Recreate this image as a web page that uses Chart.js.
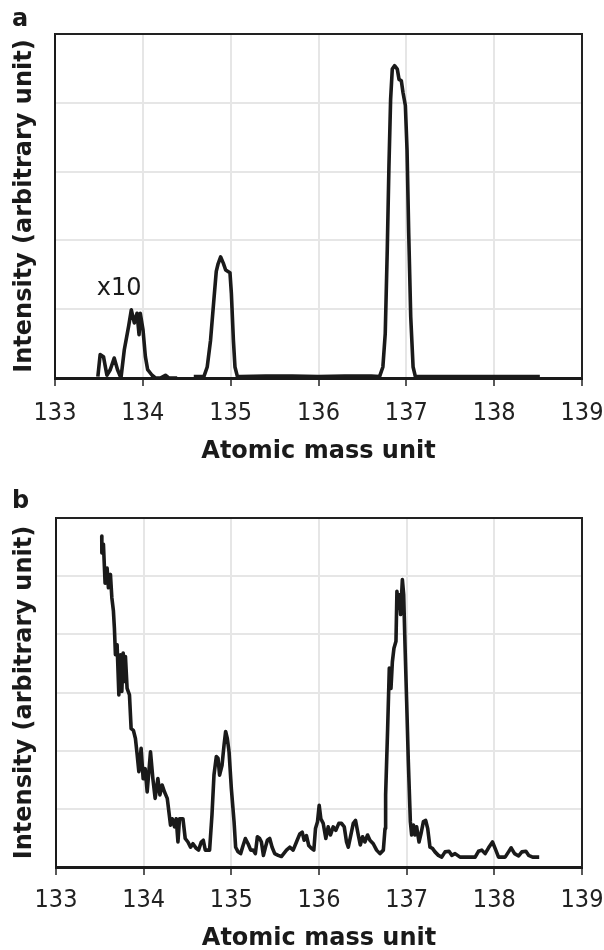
<!DOCTYPE html>
<html>
<head>
<meta charset="utf-8">
<script src="https://cdn.jsdelivr.net/npm/chart.js@4.4.1/dist/chart.umd.min.js"></script>
<style>
  html, body { margin: 0; padding: 0; background: #fff; overflow: hidden; }
  #wrap { position: relative; width: 604px; height: 950px; }
  canvas { position: absolute; left: 0; }
  .panel { position: absolute; left: 12px; font: bold 24px "DejaVu Sans"; line-height: 24px; color: #1a1a1a; }
</style>
</head>
<body>
<div id="wrap">
  <canvas id="chartA" width="604" height="475" style="top:0"></canvas>
  <canvas id="chartB" width="604" height="475" style="top:475px"></canvas>
  <div class="panel" style="top:6px">a</div>
  <div class="panel" style="top:488px">b</div>
</div>
<script>
// x axis ticks (atomic mass unit)
const massTicks = [133, 134, 135, 136, 137, 138, 139];

// panel a, the small part drawn x10
const massA10 = [133.488, 133.514, 133.552, 133.591, 133.629, 133.674, 133.712, 133.751, 133.789, 133.838,
  133.869, 133.903, 133.934, 133.957, 133.971, 134.002, 134.029, 134.055, 134.105, 134.143,
  134.2, 134.257, 134.295, 134.391];
const intensityA10 = [0.02, 0.34, 0.31, 0.04, 0.12, 0.29, 0.12, 0.0, 0.41, 0.75,
  0.99, 0.80, 0.94, 0.63, 0.94, 0.70, 0.31, 0.12, 0.04, 0.0,
  0.0, 0.04, 0.0, 0.0];

// panel a, main trace
const massA = [134.58, 134.695, 134.733, 134.771, 134.809, 134.836, 134.855, 134.886, 134.916, 134.943,
  134.992, 135.008, 135.031, 135.049, 135.077, 135.114, 135.4, 135.7, 136.0, 136.3,
  136.6, 136.695, 136.733, 136.76, 136.783, 136.802, 136.821, 136.84, 136.866, 136.897,
  136.917, 136.943, 136.962, 136.989, 137.008, 137.027, 137.05, 137.077, 137.103, 137.5,
  138.0, 138.52];
const intensityA = [0.02, 0.02, 0.16, 0.55, 1.14, 1.55, 1.65, 1.76, 1.67, 1.57,
  1.53, 1.23, 0.55, 0.16, 0.02, 0.02, 0.03, 0.03, 0.02, 0.03,
  0.03, 0.02, 0.16, 0.65, 1.87, 3.08, 4.05, 4.49, 4.54, 4.49,
  4.34, 4.32, 4.15, 3.96, 3.32, 2.11, 0.89, 0.16, 0.02, 0.02,
  0.02, 0.02];

// panel b
const massB = [133.522, 133.523, 133.541, 133.560, 133.583, 133.598, 133.621, 133.637, 133.655, 133.666,
  133.678, 133.697, 133.717, 133.735, 133.751, 133.766, 133.781, 133.792, 133.811, 133.838,
  133.857, 133.883, 133.906, 133.926, 133.945, 133.971, 133.994, 134.017, 134.040, 134.078,
  134.105, 134.131, 134.162, 134.185, 134.211, 134.238, 134.269, 134.283, 134.306, 134.326,
  134.352, 134.371, 134.391, 134.409, 134.448, 134.474, 134.505, 134.535, 134.562, 134.600,
  134.626, 134.657, 134.680, 134.703, 134.752, 134.779, 134.802, 134.829, 134.848, 134.866,
  134.894, 134.917, 134.935, 134.954, 134.974, 135.000, 135.031, 135.049, 135.077, 135.106,
  135.134, 135.160, 135.191, 135.221, 135.248, 135.274, 135.297, 135.323, 135.343, 135.366,
  135.389, 135.411, 135.438, 135.465, 135.495, 135.534, 135.571, 135.629, 135.666, 135.705,
  135.743, 135.781, 135.808, 135.831, 135.857, 135.883, 135.914, 135.941, 135.960, 135.983,
  136.002, 136.021, 136.048, 136.078, 136.105, 136.131, 136.162, 136.192, 136.226, 136.257,
  136.288, 136.314, 136.334, 136.363, 136.391, 136.417, 136.448, 136.471, 136.497, 136.523,
  136.554, 136.581, 136.619, 136.657, 136.695, 136.734, 136.753, 136.760, 136.783, 136.802,
  136.821, 136.837, 136.855, 136.878, 136.889, 136.905, 136.917, 136.931, 136.951, 136.966,
  136.981, 137.000, 137.019, 137.042, 137.057, 137.077, 137.095, 137.114, 137.141, 137.163,
  137.191, 137.217, 137.240, 137.266, 137.294, 137.323, 137.362, 137.400, 137.438, 137.483,
  137.514, 137.552, 137.609, 137.705, 137.781, 137.819, 137.857, 137.895, 137.934, 137.979,
  138.009, 138.048, 138.123, 138.162, 138.192, 138.231, 138.277, 138.314, 138.360, 138.391,
  138.437, 138.512];
const intensityB = [5.69, 5.40, 5.55, 4.88, 5.14, 4.80, 5.03, 4.63, 4.40, 4.11,
  3.65, 3.82, 2.96, 3.65, 3.02, 3.68, 3.19, 3.62, 3.07, 2.96,
  2.38, 2.35, 2.21, 1.93, 1.64, 2.04, 1.52, 1.69, 1.29, 1.98,
  1.52, 1.18, 1.52, 1.24, 1.41, 1.29, 1.18, 1.01, 0.72, 0.83,
  0.69, 0.83, 0.43, 0.83, 0.83, 0.49, 0.43, 0.34, 0.40, 0.32,
  0.29, 0.43, 0.46, 0.29, 0.29, 0.89, 1.58, 1.90, 1.87, 1.58,
  1.75, 2.10, 2.33, 2.21, 1.98, 1.35, 0.78, 0.34, 0.26, 0.23,
  0.37, 0.49, 0.40, 0.29, 0.29, 0.23, 0.52, 0.49, 0.43, 0.20,
  0.34, 0.46, 0.49, 0.34, 0.23, 0.20, 0.18, 0.29, 0.34, 0.29,
  0.43, 0.57, 0.60, 0.46, 0.54, 0.37, 0.32, 0.29, 0.66, 0.78,
  1.06, 0.83, 0.75, 0.49, 0.69, 0.55, 0.69, 0.63, 0.75, 0.75,
  0.69, 0.43, 0.34, 0.55, 0.75, 0.80, 0.55, 0.38, 0.52, 0.43,
  0.55, 0.46, 0.40, 0.29, 0.23, 0.29, 0.66, 1.24, 2.38, 3.42,
  3.07, 3.53, 3.76, 3.88, 4.74, 4.45, 4.68, 4.34, 4.94, 4.68,
  3.82, 2.84, 1.81, 0.78, 0.55, 0.72, 0.55, 0.69, 0.43, 0.57,
  0.78, 0.80, 0.66, 0.34, 0.32, 0.26, 0.20, 0.17, 0.26, 0.27,
  0.20, 0.23, 0.17, 0.17, 0.17, 0.27, 0.29, 0.23, 0.33, 0.43,
  0.32, 0.17, 0.17, 0.26, 0.33, 0.23, 0.19, 0.26, 0.27, 0.20,
  0.17, 0.17];

const gridColor = '#e6e6e6';
const inkColor = '#1a1a1a';
const tickFont = { family: '"DejaVu Sans Condensed", "DejaVu Sans"', size: 25 };

function points(xs, ys) {
  return xs.map((x, i) => ({ x: x, y: ys[i] }));
}

function trace(xs, ys) {
  return {
    data: points(xs, ys),
    showLine: true,
    borderColor: inkColor,
    borderWidth: 3.6,
    borderJoinStyle: 'round',
    pointRadius: 0,
    tension: 0
  };
}

// black frame on top and right of the plot
const framePlugin = {
  id: 'frame',
  beforeDatasetsDraw(chart) {
    const a = chart.chartArea;
    const ctx = chart.ctx;
    ctx.save();
    ctx.strokeStyle = '#222';
    ctx.lineWidth = 2;
    ctx.beginPath();
    ctx.moveTo(a.left, a.top);
    ctx.lineTo(a.right, a.top);
    ctx.lineTo(a.right, a.bottom);
    ctx.stroke();
    ctx.restore();
  }
};

// "x10" note next to the small peaks
const notePlugin = {
  id: 'note',
  afterDatasetsDraw(chart, args, opts) {
    if (!opts.text) return;
    const ctx = chart.ctx;
    ctx.save();
    ctx.font = '24px "DejaVu Sans"';
    ctx.fillStyle = inkColor;
    ctx.textAlign = 'center';
    ctx.textBaseline = 'middle';
    ctx.fillText(opts.text, chart.scales.x.getPixelForValue(opts.x), chart.scales.y.getPixelForValue(opts.y));
    ctx.restore();
  }
};

function makeChart(id, datasets, yMax, pad, yWidth, xHeight, tickPad, titlePad, note) {
  return new Chart(document.getElementById(id), {
    type: 'scatter',
    data: { datasets: datasets },
    plugins: [framePlugin, notePlugin],
    options: {
      responsive: false,
      animation: false,
      devicePixelRatio: 1,
      layout: { padding: pad },
      plugins: {
        legend: { display: false },
        tooltip: { enabled: false },
        note: note
      },
      scales: {
        x: {
          type: 'linear',
          min: massTicks[0],
          max: massTicks[massTicks.length - 1],
          afterBuildTicks: s => { s.ticks = massTicks.map(v => ({ value: v })); },
          afterFit: s => {
            s.height = xHeight;
            s.paddingLeft = 0;
            s.paddingRight = 0;
          },
          grid: { color: gridColor, lineWidth: 2, tickColor: '#222', tickLength: 8, tickWidth: 1.5 },
          border: { color: inkColor, width: 3 },
          ticks: {
            padding: tickPad,
            color: '#222',
            font: tickFont,
            callback: v => String(v)
          },
          title: {
            display: true,
            text: 'Atomic mass unit',
            color: inkColor,
            font: { family: 'DejaVu Sans', size: 24, weight: 'bold' },
            padding: { top: 0, bottom: titlePad }
          }
        },
        y: {
          min: 0,
          max: yMax,
          ticks: { display: false, stepSize: 1 },
          afterFit: s => { s.width = yWidth; },
          grid: { color: gridColor, lineWidth: 2, drawTicks: false },
          border: { color: inkColor, width: 2 },
          title: {
            display: true,
            text: 'Intensity (arbitrary unit)',
            color: inkColor,
            font: { family: 'DejaVu Sans', size: 24, weight: 'bold' },
            padding: { top: 10, bottom: 0 }
          }
        }
      }
    }
  });
}

makeChart('chartA', [trace(massA10, intensityA10), trace(massA, intensityA)], 5,
  { top: 34, right: 22, bottom: 0, left: 0 }, 55, 97, 12, 9,
  { text: 'x10', x: 133.73, y: 1.3 });

makeChart('chartB', [trace(massB, intensityB)], 6,
  { top: 43, right: 22, bottom: 0, left: 0 }, 56, 83, 10, -3,
  {});
</script>
</body>
</html>
